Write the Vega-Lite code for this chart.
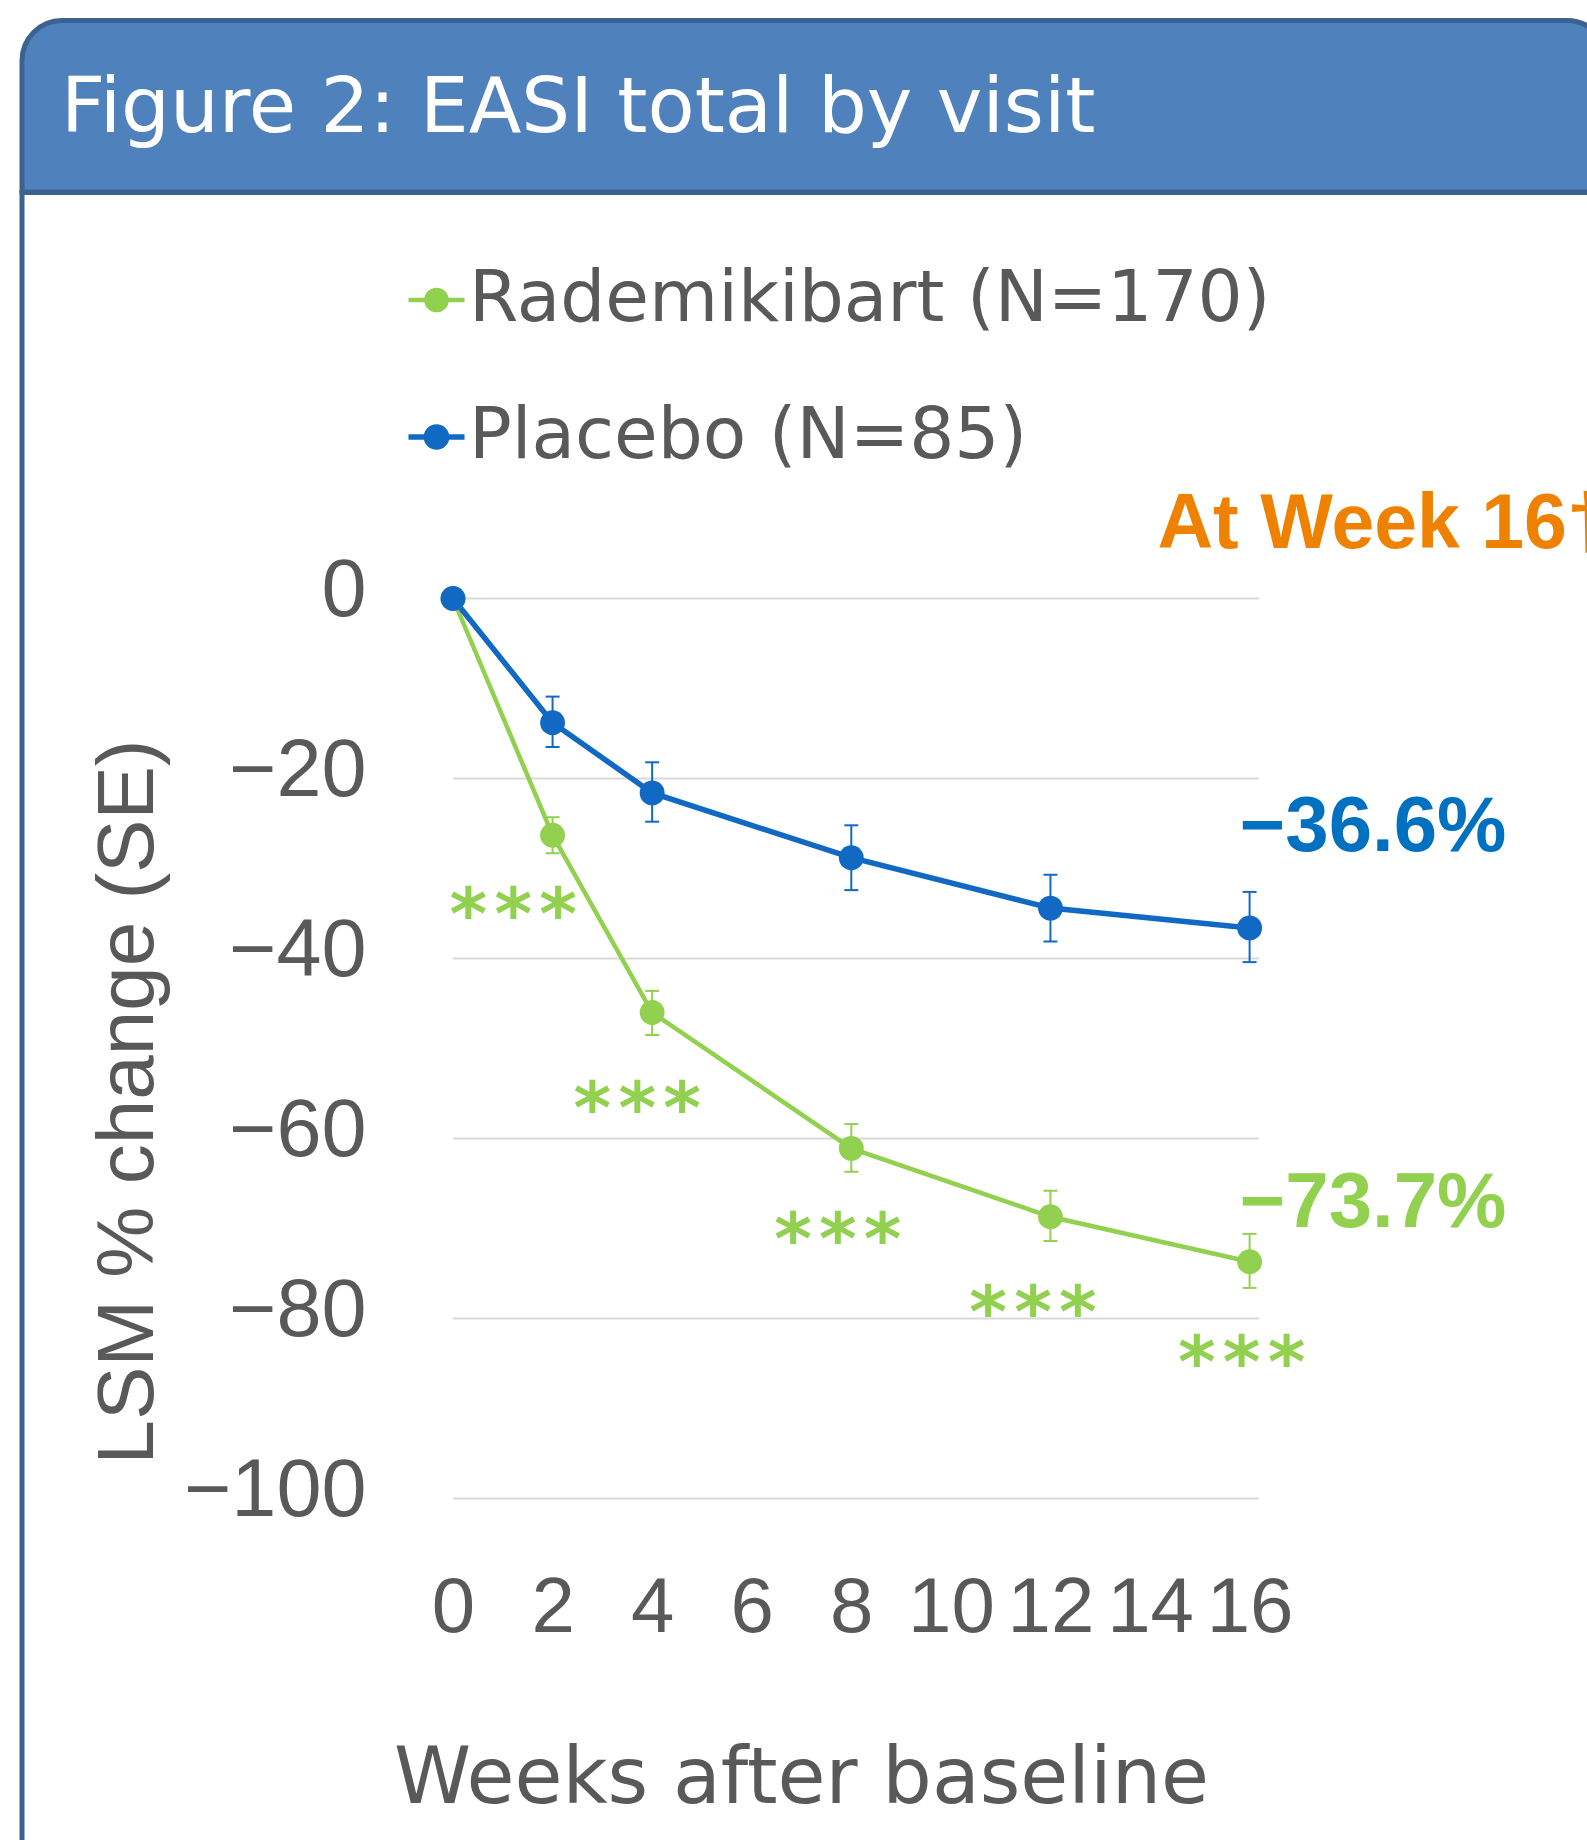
{
  "$schema": "https://vega.github.io/schema/vega-lite/v6.json",
  "padding": {"left": 19, "top": 17.5, "right": 0, "bottom": 0},
  "background": "white",
  "spacing": 0,
  "bounds": "flush",
  "config": {"view": {"stroke": null}},
  "datasets": {
    "series": [
      {"week": 0, "group": "Rademikibart (N=170)", "lsm": 0, "lo": null, "hi": null},
      {"week": 2, "group": "Rademikibart (N=170)", "lsm": -26.3, "lo": -28.3, "hi": -24.3},
      {"week": 4, "group": "Rademikibart (N=170)", "lsm": -46.0, "lo": -48.5, "hi": -43.6},
      {"week": 8, "group": "Rademikibart (N=170)", "lsm": -61.1, "lo": -63.7, "hi": -58.4},
      {"week": 12, "group": "Rademikibart (N=170)", "lsm": -68.7, "lo": -71.4, "hi": -65.8},
      {"week": 16, "group": "Rademikibart (N=170)", "lsm": -73.7, "lo": -76.6, "hi": -70.6},
      {"week": 0, "group": "Placebo (N=85)", "lsm": 0, "lo": null, "hi": null},
      {"week": 2, "group": "Placebo (N=85)", "lsm": -13.8, "lo": -16.5, "hi": -10.9},
      {"week": 4, "group": "Placebo (N=85)", "lsm": -21.6, "lo": -24.8, "hi": -18.2},
      {"week": 8, "group": "Placebo (N=85)", "lsm": -28.8, "lo": -32.4, "hi": -25.2},
      {"week": 12, "group": "Placebo (N=85)", "lsm": -34.4, "lo": -38.1, "hi": -30.7},
      {"week": 16, "group": "Placebo (N=85)", "lsm": -36.6, "lo": -40.4, "hi": -32.6}
    ],
    "grid": [{"g": 0}, {"g": -20}, {"g": -40}, {"g": -60}, {"g": -80}, {"g": -100}],
    "stars": [
      {"week": 1.21, "lsm": -34.0, "label": "*\u200a*\u200a*"},
      {"week": 3.70, "lsm": -55.6, "label": "*\u200a*\u200a*"},
      {"week": 7.73, "lsm": -70.2, "label": "*\u200a*\u200a*"},
      {"week": 11.65, "lsm": -78.3, "label": "*\u200a*\u200a*"},
      {"week": 15.84, "lsm": -83.8, "label": "*\u200a*\u200a*"}
    ],
    "pbo": [{"week": 18.48, "lsm": -25.5, "label": "\u221236.6%"}],
    "rad": [{"week": 18.48, "lsm": -67.3, "label": "\u221273.7%"}],
    "wk": [{"week": 14.15, "lsm": 5.56, "label": "At Week 16\u2020"}],
    "head": [{"label": "Figure 2: EASI total by visit"}]
  },
  "vconcat": [
    {
      "width": 1585,
      "height": 171.5,
      "data": {"name": "head"},
      "layer": [
        {
          "mark": {"type": "rect", "fill": "#4F81BD", "stroke": "#3C6291", "strokeWidth": 5, "cornerRadiusTopLeft": 40, "cornerRadiusTopRight": 40},
          "encoding": {}
        },
        {
          "mark": {"type": "text", "align": "left", "baseline": "alphabetic", "font": "DejaVu Sans", "fontSize": 77, "color": "white", "x": 39, "y": 111},
          "encoding": {"text": {"field": "label"}}
        }
      ]
    },
    {
      "width": 1585,
      "height": 1700,
      "view": {"stroke": "#3C6291", "strokeWidth": 5, "fill": "white"},
      "layer": [
        {
          "data": {"name": "grid"},
          "mark": {"type": "rule", "color": "#D9D9D9", "strokeWidth": 2},
          "encoding": {
            "y": {
              "field": "g", "type": "quantitative",
              "scale": {"domain": [-100, 0], "range": [1306, 406], "nice": false, "zero": false},
              "axis": {
                "orient": "left", "offset": -431, "values": [0, -20, -40, -60, -80, -100], "format": "d",
                "domain": false, "ticks": false, "tickSize": 0, "grid": false,
                "labelFont": "Liberation Sans", "labelFontSize": 81, "labelColor": "#595959",
                "labelPadding": 87, "labelOffset": -7, "labelOverlap": false, "labelLimit": 600,
                "title": "LSM % change (SE)", "titleFont": "Liberation Sans", "titleFontSize": 80,
                "titleFontWeight": "normal", "titleColor": "#595959",
                "titleX": -325, "titleY": 909, "titleAlign": "center", "titleBaseline": "middle", "titleAngle": -90
              }
            },
            "x": {
              "datum": 0, "type": "quantitative",
              "scale": {"domain": [0, 16], "range": [431, 1227.6], "nice": false, "zero": false},
              "axis": {
                "orient": "bottom", "offset": -394, "values": [0, 2, 4, 6, 8, 10, 12, 14, 16], "format": "d",
                "domain": false, "ticks": false, "tickSize": 0, "grid": false,
                "labelFont": "Liberation Sans", "labelFontSize": 78, "labelColor": "#595959",
                "labelPadding": 71, "labelBaseline": "top", "labelFlush": false, "labelOverlap": false, "labelLimit": 600,
                "title": "Weeks after baseline", "titleFont": "DejaVu Sans", "titleFontSize": 78,
                "titleFontWeight": "normal", "titleColor": "#595959",
                "titleX": 779, "titleY": 281, "titleAlign": "center", "titleBaseline": "middle"
              }
            },
            "x2": {"datum": 16.19}
          }
        },
        {
          "data": {"name": "series"},
          "transform": [{"filter": "datum.lo != null"}],
          "mark": {"type": "rule", "strokeWidth": 2},
          "encoding": {
            "x": {"field": "week", "type": "quantitative"},
            "y": {"field": "lo", "type": "quantitative"},
            "y2": {"field": "hi"},
            "color": {"field": "group", "type": "nominal"}
          }
        },
        {
          "data": {"name": "series"},
          "transform": [{"filter": "datum.lo != null"}],
          "mark": {"type": "tick", "orient": "horizontal", "size": 14, "thickness": 2, "opacity": 1},
          "encoding": {
            "x": {"field": "week", "type": "quantitative"},
            "y": {"field": "lo", "type": "quantitative"},
            "color": {"field": "group", "type": "nominal"}
          }
        },
        {
          "data": {"name": "series"},
          "transform": [{"filter": "datum.lo != null"}],
          "mark": {"type": "tick", "orient": "horizontal", "size": 14, "thickness": 2, "opacity": 1},
          "encoding": {
            "x": {"field": "week", "type": "quantitative"},
            "y": {"field": "hi", "type": "quantitative"},
            "color": {"field": "group", "type": "nominal"}
          }
        },
        {
          "data": {"name": "series"},
          "mark": {"type": "line"},
          "encoding": {
            "x": {"field": "week", "type": "quantitative"},
            "y": {"field": "lsm", "type": "quantitative"},
            "color": {
              "field": "group", "type": "nominal",
              "scale": {"domain": ["Rademikibart (N=170)", "Placebo (N=85)"], "range": ["#92D050", "#1169C4"]},
              "legend": {
                "orient": "none", "legendX": 379, "legendY": 244, "title": null, "direction": "vertical",
                "symbolType": "M-1,0H1M0.36,0A0.36,0.36,0,1,1,-0.36,0A0.36,0.36,0,1,1,0.36,0Z",
                "symbolSize": 3136, "symbolStrokeWidth": 4,
                "labelFont": "DejaVu Sans", "labelFontSize": 71, "labelColor": "#595959",
                "labelOffset": -3, "rowPadding": 65, "labelLimit": 2000,
                "encode": {"symbols": {"update": {"fill": {"scale": "color", "field": "value"}, "stroke": {"scale": "color", "field": "value"}, "opacity": {"value": 1}}}}
              }
            },
            "strokeWidth": {
              "field": "group", "type": "nominal",
              "scale": {"domain": ["Rademikibart (N=170)", "Placebo (N=85)"], "range": [4.5, 5.5]},
              "legend": null
            }
          }
        },
        {
          "data": {"name": "series"},
          "mark": {"type": "point", "filled": true, "size": 620, "opacity": 1},
          "encoding": {
            "x": {"field": "week", "type": "quantitative"},
            "y": {"field": "lsm", "type": "quantitative"},
            "color": {"field": "group", "type": "nominal"}
          }
        },
        {
          "data": {"name": "stars"},
          "mark": {"type": "text", "font": "DejaVu Sans", "fontWeight": "bold", "fontSize": 72, "color": "#92D050", "align": "center", "baseline": "middle", "dy": 12},
          "encoding": {
            "x": {"field": "week", "type": "quantitative"},
            "y": {"field": "lsm", "type": "quantitative"},
            "text": {"field": "label"}
          }
        },
        {
          "data": {"name": "pbo"},
          "mark": {"type": "text", "font": "Liberation Sans", "fontWeight": "bold", "fontSize": 78, "color": "#0070C0", "align": "center", "baseline": "middle"},
          "encoding": {
            "x": {"field": "week", "type": "quantitative"},
            "y": {"field": "lsm", "type": "quantitative"},
            "text": {"field": "label"}
          }
        },
        {
          "data": {"name": "rad"},
          "mark": {"type": "text", "font": "Liberation Sans", "fontWeight": "bold", "fontSize": 78, "color": "#92D050", "align": "center", "baseline": "middle"},
          "encoding": {
            "x": {"field": "week", "type": "quantitative"},
            "y": {"field": "lsm", "type": "quantitative"},
            "text": {"field": "label"}
          }
        },
        {
          "data": {"name": "wk"},
          "mark": {"type": "text", "font": "Liberation Sans", "fontWeight": "bold", "fontSize": 77, "color": "#EF8100", "align": "left", "baseline": "alphabetic"},
          "encoding": {
            "x": {"field": "week", "type": "quantitative"},
            "y": {"field": "lsm", "type": "quantitative"},
            "text": {"field": "label"}
          }
        }
      ]
    }
  ]
}
